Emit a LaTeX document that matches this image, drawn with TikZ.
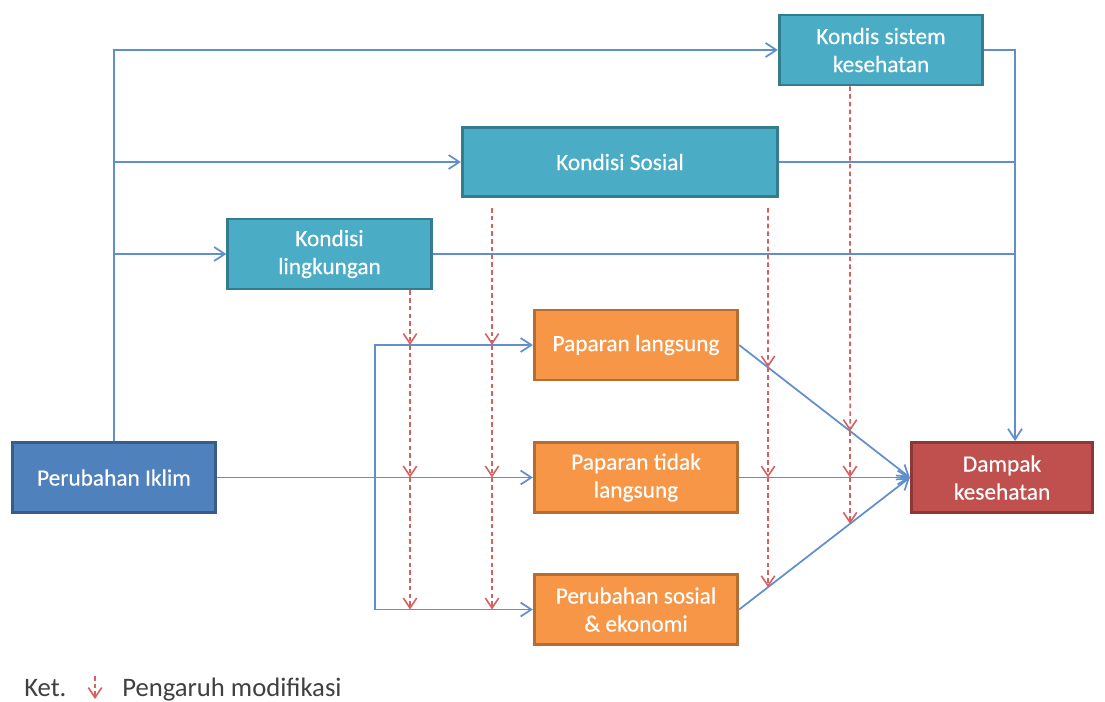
\documentclass[tikz,border=0pt]{standalone}
\usepackage{fontspec}
\setmainfont{Carlito}
\newfontfamily\boxfont[FakeBold=0.35]{Carlito}
\usetikzlibrary{arrows.meta,calc}
\definecolor{tealfill}{RGB}{75,172,198}
\definecolor{tealdraw}{RGB}{52,125,145}
\definecolor{orfill}{RGB}{247,150,70}
\definecolor{ordraw}{RGB}{182,109,49}
\definecolor{bluefill}{RGB}{79,129,189}
\definecolor{bluedraw}{RGB}{56,93,138}
\definecolor{redfill}{RGB}{192,80,77}
\definecolor{reddraw}{RGB}{140,56,54}
\definecolor{conn}{RGB}{96,143,204}
\definecolor{modline}{RGB}{214,96,96}
\definecolor{legtext}{RGB}{64,64,64}
\begin{document}
\begin{tikzpicture}[x=0.75pt,y=-0.75pt,
  box/.style={draw, line width=2.2pt, text=white, align=center, inner sep=0pt,
    font=\boxfont\fontsize{17.5}{21}\selectfont, minimum width=152.5pt, minimum height=52.5pt},
  tealbox/.style={box, fill=tealfill, draw=tealdraw},
  orbox/.style={box, fill=orfill, draw=ordraw},
  bluebox/.style={box, fill=bluefill, draw=bluedraw},
  redbox/.style={box, fill=redfill, draw=reddraw},
  bl/.style={draw=conn, line width=1.3pt},
  bla/.style={bl, -{Straight Barb[length=8pt,width=10.5pt,line width=1.3pt]}},
  rd/.style={draw=modline, line width=1.2pt, dash pattern=on 3.4pt off 2.4pt,
    -{Straight Barb[length=7.5pt,width=10pt,line width=1.2pt]}},
  legend/.style={anchor=base west, text=legtext, font=\fontsize{20}{24}\selectfont, inner sep=0pt}
]
\useasboundingbox (0,0) rectangle (1105,702);

% nodes
\node[bluebox] (pi) at (114,477.5) {Perubahan Iklim};
\node[tealbox] (kl) at (329.5,254) {Kondisi\\lingkungan};
\node[tealbox, minimum width=236.5pt, minimum height=52pt] (ks) at (620,162) {Kondisi Sosial};
\node[tealbox] (kss) at (881,50) {Kondis sistem\\kesehatan};
\node[orbox] (pl) at (636,345) {Paparan langsung};
\node[orbox] (ptl) at (636,477.5) {Paparan tidak\\langsung};
\node[orbox] (pse) at (636,609.5) {Perubahan sosial\\\& ekonomi};
\node[redbox, minimum width=136pt] (dk) at (1002,477.5) {Dampak\\kesehatan};

% helper coordinates
\coordinate (rj) at ([xshift=9.75pt]dk.north);
\coordinate (bx) at (375,477.5);

% blue connectors
\draw[bla] (pi.north) |- (kss.west);
\draw[bla] (pi.north |- ks.west) -- (ks.west);
\draw[bla] (pi.north |- kl.west) -- (kl.west);
\draw[bla] (kss.east) -| (rj);
\draw[bl] (ks.east) -- (ks.east -| rj);
\draw[bl] (kl.east) -- (kl.east -| rj);
\draw[bla] (pi.east) -- (ptl.west);
\draw[bla] (bx) |- (pl.west);
\draw[bla] (bx) |- (pse.west);
\draw[bla] (pl.east) -- (dk.west);
\draw[bla] (ptl.east) -- (dk.west);
\draw[bla] (pse.east) -- (dk.west);

% modifying influences
\coordinate (a0) at (kl.south -| 410,0);
\draw[rd] (a0) -- (a0 |- pl.west);
\draw[rd] (a0 |- pl.west) -- (a0 |- ptl.west);
\draw[rd] (a0 |- ptl.west) -- (a0 |- pse.west);

\coordinate (b0) at ($(ks.south -| 492,0)+(0,10)$);
\draw[rd] (b0) -- (b0 |- pl.west);
\draw[rd] (b0 |- pl.west) -- (b0 |- ptl.west);
\draw[rd] (b0 |- ptl.west) -- (b0 |- pse.west);

\coordinate (c0) at ($(ks.south -| 768,0)+(0,10)$);
\coordinate (c1) at (intersection of 768,0--768,700 and pl.east--dk.west);
\coordinate (c3) at (intersection of 768,0--768,700 and pse.east--dk.west);
\draw[rd] (c0) -- (c1);
\draw[rd] (c1) -- (c1 |- ptl.west);
\draw[rd] (c1 |- ptl.west) -- (c3);

\coordinate (d0) at (kss.south -| 850,0);
\coordinate (d1) at (intersection of 850,0--850,700 and pl.east--dk.west);
\coordinate (d3) at (intersection of 850,0--850,700 and pse.east--dk.west);
\draw[rd] (d0) -- (d1);
\draw[rd] (d1) -- (d1 |- ptl.west);
\draw[rd] (d1 |- ptl.west) -- (d3);

% legend
\node[legend] (ket) at (24,696) {Ket.};
\coordinate (la) at (95,676);
\coordinate (lb) at (95,699);
\draw[rd] (la) -- (lb);
\node[legend] (leg) at (122,696) {Pengaruh modifikasi};
\end{tikzpicture}
\end{document}
